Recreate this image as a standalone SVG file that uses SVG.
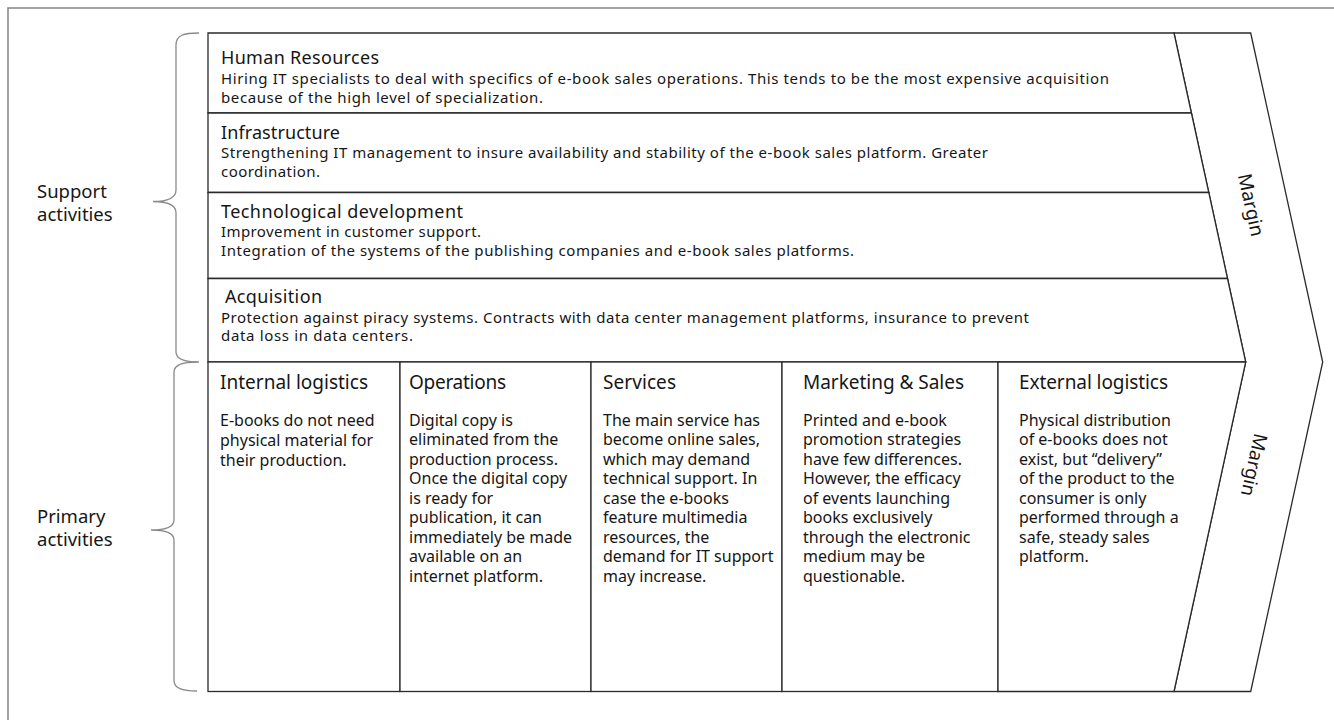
<svg xmlns="http://www.w3.org/2000/svg" width="1334" height="720" viewBox="0 0 1334 720">
<style>
text{font-family:"Noto Sans","Open Sans","DejaVu Sans",sans-serif;fill:#161616}
.title{font-size:18px}
.sbody{font-size:15px}
.head{font-size:19px}
.cbody{font-size:16px}
.side{font-size:18.5px}
.margin{font-size:19px}
.box{fill:#fff;stroke:#2a2a2a;stroke-width:1.3}
.brace{fill:none;stroke:#8a8a8a;stroke-width:1.3}
</style>
<rect width="1334" height="720" fill="#fff"/>
<g id="frame"><rect x="8" y="8" width="1340" height="730" fill="none" stroke="#8c8c8c" stroke-width="1.6"/></g>

<g id="margin">
<polygon class="box" points="1174,33 1250.7,33 1322.7,362 1250.7,691.5 1174,691.5 1245.7,362"/>
<text class="margin" transform="translate(1251,205) rotate(77.7)" text-anchor="middle" y="6.5">Margin</text>
<text class="margin" transform="translate(1254,465) rotate(102.3)" text-anchor="middle" y="6.5">Margin</text>
</g>

<g id="human-resources">
<polygon class="box" points="208,33 1174,33 1191.4,113 208,113"/>
<text class="title" x="221" y="64" textLength="158">Human Resources</text>
<text class="sbody" x="221" y="84" textLength="888">Hiring IT specialists to deal with specifics of e-book sales operations. This tends to be the most expensive acquisition</text>
<text class="sbody" x="221" y="102.5" textLength="322">because of the high level of specialization.</text>
</g>
<g id="infrastructure">
<polygon class="box" points="208,113 1191.4,113 1208.8,192.5 208,192.5"/>
<text class="title" x="221" y="138.5" textLength="119">Infrastructure</text>
<text class="sbody" x="221" y="158" textLength="767">Strengthening IT management to insure availability and stability of the e-book sales platform. Greater</text>
<text class="sbody" x="221" y="177" textLength="99">coordination.</text>
</g>
<g id="technological-development">
<polygon class="box" points="208,192.5 1208.8,192.5 1227.5,278.5 208,278.5"/>
<text class="title" x="221" y="217.5" textLength="242">Technological development</text>
<text class="sbody" x="221" y="237" textLength="260">Improvement in customer support.</text>
<text class="sbody" x="221" y="256" textLength="633">Integration of the systems of the publishing companies and e-book sales platforms.</text>
</g>
<g id="acquisition">
<polygon class="box" points="208,278.5 1227.5,278.5 1245.7,362 208,362"/>
<text class="title" x="225" y="302.7" textLength="97">Acquisition</text>
<text class="sbody" x="221" y="322.5" textLength="808">Protection against piracy systems. Contracts with data center management platforms, insurance to prevent</text>
<text class="sbody" x="221" y="341" textLength="192">data loss in data centers.</text>
</g>

<g id="internal-logistics">
<rect class="box" x="208" y="362" width="192" height="329.5"/>
<text class="head" x="220" y="389" textLength="148">Internal logistics</text>
<text class="cbody"><tspan x="220" y="425.5">E-books do not need</tspan><tspan x="220" y="445.5">physical material for</tspan><tspan x="220" y="465.5">their production.</tspan></text>
</g>
<g id="operations">
<rect class="box" x="400" y="362" width="191" height="329.5"/>
<text class="head" x="409" y="389" textLength="97">Operations</text>
<text class="cbody"><tspan x="409" y="425.5">Digital copy is</tspan><tspan x="409" y="445">eliminated from the</tspan><tspan x="409" y="464.5">production process.</tspan><tspan x="409" y="484">Once the digital copy</tspan><tspan x="409" y="503.5">is ready for</tspan><tspan x="409" y="523">publication, it can</tspan><tspan x="409" y="542.5">immediately be made</tspan><tspan x="409" y="562">available on an</tspan><tspan x="409" y="581.5">internet platform.</tspan></text>
</g>
<g id="services">
<rect class="box" x="591" y="362" width="191" height="329.5"/>
<text class="head" x="603" y="389" textLength="73">Services</text>
<text class="cbody"><tspan x="603" y="425.5">The main service has</tspan><tspan x="603" y="445">become online sales,</tspan><tspan x="603" y="464.5">which may demand</tspan><tspan x="603" y="484">technical support. In</tspan><tspan x="603" y="503.5">case the e-books</tspan><tspan x="603" y="523">feature multimedia</tspan><tspan x="603" y="542.5">resources, the</tspan><tspan x="603" y="562">demand for IT support</tspan><tspan x="603" y="581.5">may increase.</tspan></text>
</g>
<g id="marketing-sales">
<rect class="box" x="782" y="362" width="216" height="329.5"/>
<text class="head" x="803" y="389" textLength="161">Marketing &amp; Sales</text>
<text class="cbody"><tspan x="803" y="425.5">Printed and e-book</tspan><tspan x="803" y="445">promotion strategies</tspan><tspan x="803" y="464.5">have few differences.</tspan><tspan x="803" y="484">However, the efficacy</tspan><tspan x="803" y="503.5">of events launching</tspan><tspan x="803" y="523">books exclusively</tspan><tspan x="803" y="542.5">through the electronic</tspan><tspan x="803" y="562">medium may be</tspan><tspan x="803" y="581.5">questionable.</tspan></text>
</g>
<g id="external-logistics">
<polygon class="box" points="998,362 1245.7,362 1174,691.5 998,691.5"/>
<text class="head" x="1019" y="389" textLength="149">External logistics</text>
<text class="cbody"><tspan x="1019" y="425.5">Physical distribution</tspan><tspan x="1019" y="445">of e-books does not</tspan><tspan x="1019" y="464.5">exist, but “delivery”</tspan><tspan x="1019" y="484">of the product to the</tspan><tspan x="1019" y="503.5">consumer is only</tspan><tspan x="1019" y="523">performed through a</tspan><tspan x="1019" y="542.5">safe, steady sales</tspan><tspan x="1019" y="562">platform.</tspan></text>
</g>

<g id="support-activities">
<text class="side" x="37" y="197.5">Support</text>
<text class="side" x="37" y="220.5">activities</text>
</g>
<g id="primary-activities">
<text class="side" x="37" y="523">Primary</text>
<text class="side" x="37" y="546">activities</text>
</g>

<g id="connectors">
<path class="brace" d="M199,33 C184,33 176,35 176,45 L176,190 C176,198 168,201.5 153,201.5 C168,201.5 176,205 176,213 L176,352 C176,359 184,362 199,362"/>
<path class="brace" d="M197,362 C182,362 174,365 174,372 L174,520 C174,527 166,530 151,530 C166,530 174,533 174,540 L174,681 C174,688 182,691 197,691"/>
</g>
</svg>
